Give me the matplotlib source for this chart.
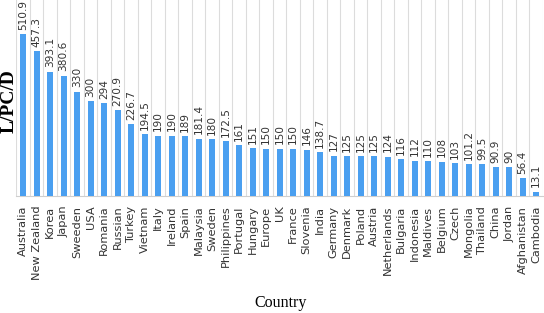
import matplotlib.pyplot as plt
import numpy as np

# Country values
countries = ['Australia', 'New Zealand', 'Korea', 'Japan', 'Sweeden', 'USA',
             'Romania', 'Russian', 'Turkey', 'Vietnam', 'Italy', 'Ireland',
             'Spain', 'Malaysia', 'Sweden', 'Philippines', 'Portugal', 'Hungary',
             'Europe', 'UK', 'France', 'Slovenia', 'India', 'Germany', 'Denmark',
             'Poland', 'Austria', 'Netherlands', 'Bulgaria', 'Indonesia',
             'Maldives', 'Belgium', 'Czech', 'Mongolia', 'Thailand', 'China',
             'Jordan', 'Afghanistan', 'Cambodia']
values = [510.9, 457.3, 393.1, 380.6, 330, 300, 294, 270.9, 226.7, 194.5,
          190, 190, 189, 181.4, 180, 172.5, 161, 151, 150, 150, 150, 146,
          138.7, 127, 125, 125, 125, 124, 116, 112, 110, 108, 103, 101.2,
          99.5, 90.9, 90, 56.4, 13.1]
value_labels = ['510.9', '457.3', '393.1', '380.6', '330', '300', '294',
                '270.9', '226.7', '194.5', '190', '190', '189', '181.4', '180',
                '172.5', '161', '151', '150', '150', '150', '146', '138.7',
                '127', '125', '125', '125', '124', '116', '112', '110', '108',
                '103', '101.2', '99.5', '90.9', '90', '56.4', '13.1']

fig = plt.figure(figsize=(5.44, 3.13), dpi=100)
ax = fig.add_axes([0.03, 0.374, 0.968, 0.626])

x = np.arange(len(countries))
ax.bar(x, values, width=0.45, color='#4a9ff0', zorder=3)

# value labels above bars
for xi, v, s in zip(x, values, value_labels):
    ax.text(xi, v + 14, s, rotation=90, ha='center', va='bottom',
            fontsize=7.6, family='DejaVu Sans', color='#333333')

ax.set_xlim(-0.5, len(countries) - 0.5)
ax.set_ylim(0, 620)

# light vertical separators between categories
ax.set_xticks(np.arange(-0.5, len(countries)), minor=True)
ax.grid(True, which='minor', axis='x', color='#dcdcdc', linewidth=0.8, zorder=0)
ax.tick_params(axis='x', which='minor', length=0)

ax.set_xticks(x)
ax.set_xticklabels(countries, rotation=90, fontsize=8.2, family='DejaVu Sans',
                   color='#333333')
ax.tick_params(axis='x', which='major', length=0, pad=7)
ax.set_yticks([])

for side in ['top', 'right', 'left']:
    ax.spines[side].set_visible(False)
ax.spines['bottom'].set_color('#cfcfcf')

fig.text(0.0175, 0.677, 'L/PC/D', rotation=90, ha='center', va='center',
         fontsize=14, fontweight='bold', family='Liberation Serif')
fig.text(0.515, 0.032, 'Country', ha='center', va='center',
         fontsize=11.5, family='Liberation Serif')

plt.savefig('out.png', dpi=100)
